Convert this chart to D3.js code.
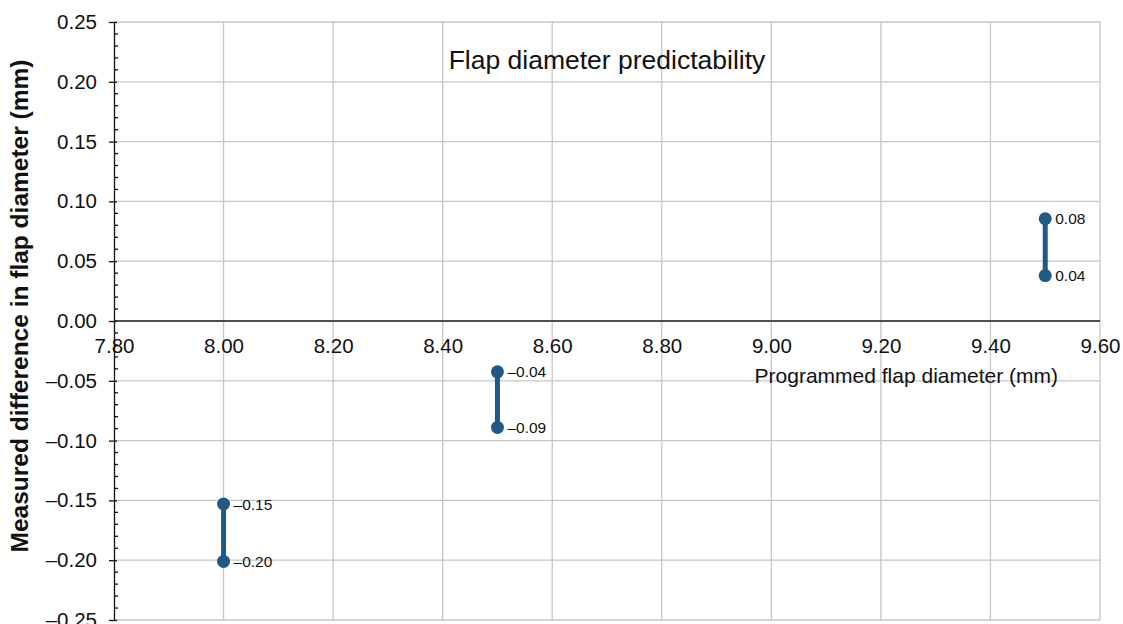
<!DOCTYPE html>
<html lang="en">
<head>
<meta charset="UTF-8">
<title>Flap diameter predictability</title>
<script src="https://d3js.org/d3.v7.min.js"></script>
<style>
html, body { margin: 0; padding: 0; background: white; }
body { font-family: 'Liberation Sans', Arial, sans-serif; }
.grid line { stroke: #c6c6c6; stroke-width: 1.3px; }
.y-axis text, .x-axis text { font-size: 20.5px; fill: #111; font-family: 'Liberation Sans', Arial, sans-serif; }
.y-axis path, .y-axis line { stroke: #111; stroke-width: 1.3px; }
.zero-line { stroke: #222; stroke-width: 1.5px; }
.pt-label { font-size: 15.5px; fill: #111; }
</style>
</head>
<body>
<div id="chart"></div>
<script>

// Data
var diameters = [8.00, 8.50, 9.50];
var upperDiff = [-0.153, -0.0425, 0.0855];
var lowerDiff = [-0.201, -0.089, 0.038];
var upperLabels = ["\u20130.15", "\u20130.04", "0.08"];
var lowerLabels = ["\u20130.20", "\u20130.09", "0.04"];

var xTicks = [7.8, 8.0, 8.2, 8.4, 8.6, 8.8, 9.0, 9.2, 9.4, 9.6];
var yTicks = [0.25, 0.20, 0.15, 0.10, 0.05, 0.00, -0.05, -0.10, -0.15, -0.20, -0.25];

var totalWidth = 1123, totalHeight = 624;
var plot = {left: 114, right: 1100, top: 22, bottom: 620};

var svg = d3.select("#chart").append("svg")
  .attr("width", totalWidth)
  .attr("height", totalHeight);

var xscale = d3.scaleLinear().domain([7.8, 9.6]).range([plot.left, plot.right]);
var yscale = d3.scaleLinear().domain([-0.25, 0.25]).range([plot.bottom, plot.top]);

var fmt = function(d) {
  var s = d3.format(".2f")(Math.abs(d));
  return d < -1e-9 ? "\u2013" + s : s;
};

// gridlines
var grid = svg.append("g").attr("class", "grid");
grid.selectAll(".gx").data(xTicks.slice(1)).join("line")
  .attr("x1", d => xscale(d)).attr("x2", d => xscale(d))
  .attr("y1", plot.top).attr("y2", plot.bottom);
grid.selectAll(".gy").data(yTicks).join("line")
  .attr("x1", plot.left).attr("x2", plot.right)
  .attr("y1", d => yscale(d)).attr("y2", d => yscale(d));

// y axis with minor ticks
var minor = d3.range(-0.25, 0.2501, 0.01).filter(v => Math.abs(Math.round(v * 100) % 5) !== 0);
var yAxis = svg.append("g")
  .attr("class", "y-axis")
  .attr("transform", `translate(${plot.left},0)`)
  .call(d3.axisLeft(yscale).tickValues(yTicks).tickFormat(fmt).tickSize(5).tickSizeOuter(0).tickPadding(12));
yAxis.attr("font-size", null).attr("font-family", null);
yAxis.selectAll(".tick line").attr("x2", -5).attr("x1", 3);
yAxis.selectAll(".minor").data(minor).join("line")
  .attr("class", "minor")
  .attr("x1", 0).attr("x2", 4)
  .attr("y1", d => yscale(d)).attr("y2", d => yscale(d));

// x axis at zero
svg.append("line").attr("class", "zero-line")
  .attr("x1", plot.left).attr("x2", plot.right)
  .attr("y1", yscale(0)).attr("y2", yscale(0));
var xAxis = svg.append("g")
  .attr("class", "x-axis")
  .attr("transform", `translate(0,${yscale(0)})`)
  .call(d3.axisBottom(xscale).tickValues(xTicks).tickFormat(d3.format(".2f")).tickSize(0).tickPadding(17));
xAxis.attr("font-size", null).attr("font-family", null);
xAxis.select(".domain").remove();

// range bars
var pts = diameters.map((d, i) => ({x: d, hi: upperDiff[i], lo: lowerDiff[i], hl: upperLabels[i], ll: lowerLabels[i]}));
var marks = svg.append("g");
marks.selectAll(".bar").data(pts).join("line")
  .attr("x1", d => xscale(d.x)).attr("x2", d => xscale(d.x))
  .attr("y1", d => yscale(d.hi)).attr("y2", d => yscale(d.lo))
  .attr("stroke", "#1f5a86").attr("stroke-width", 5);
marks.selectAll(".hi").data(pts).join("circle")
  .attr("cx", d => xscale(d.x)).attr("cy", d => yscale(d.hi)).attr("r", 6.5).attr("fill", "#1f5a86");
marks.selectAll(".lo").data(pts).join("circle")
  .attr("cx", d => xscale(d.x)).attr("cy", d => yscale(d.lo)).attr("r", 6.5).attr("fill", "#1f5a86");
marks.selectAll(".hl").data(pts).join("text").attr("class", "pt-label")
  .attr("x", d => xscale(d.x) + 10).attr("y", d => yscale(d.hi)).attr("dy", "0.36em").text(d => d.hl);
marks.selectAll(".ll").data(pts).join("text").attr("class", "pt-label")
  .attr("x", d => xscale(d.x) + 10).attr("y", d => yscale(d.lo)).attr("dy", "0.36em").text(d => d.ll);

// titles
svg.append("text").attr("x", 607).attr("y", 69).attr("text-anchor", "middle")
  .style("font-size", "26.5px").style("fill", "#111").text("Flap diameter predictability");
svg.append("text").attr("x", 1058).attr("y", 383).attr("text-anchor", "end")
  .style("font-size", "21px").style("fill", "#111").text("Programmed flap diameter (mm)");
svg.append("text").attr("transform", "translate(28,306) rotate(-90)").attr("text-anchor", "middle")
  .style("font-size", "24.5px").style("font-weight", "bold").style("fill", "#111")
  .text("Measured difference in flap diameter (mm)");

</script>
</body>
</html>
